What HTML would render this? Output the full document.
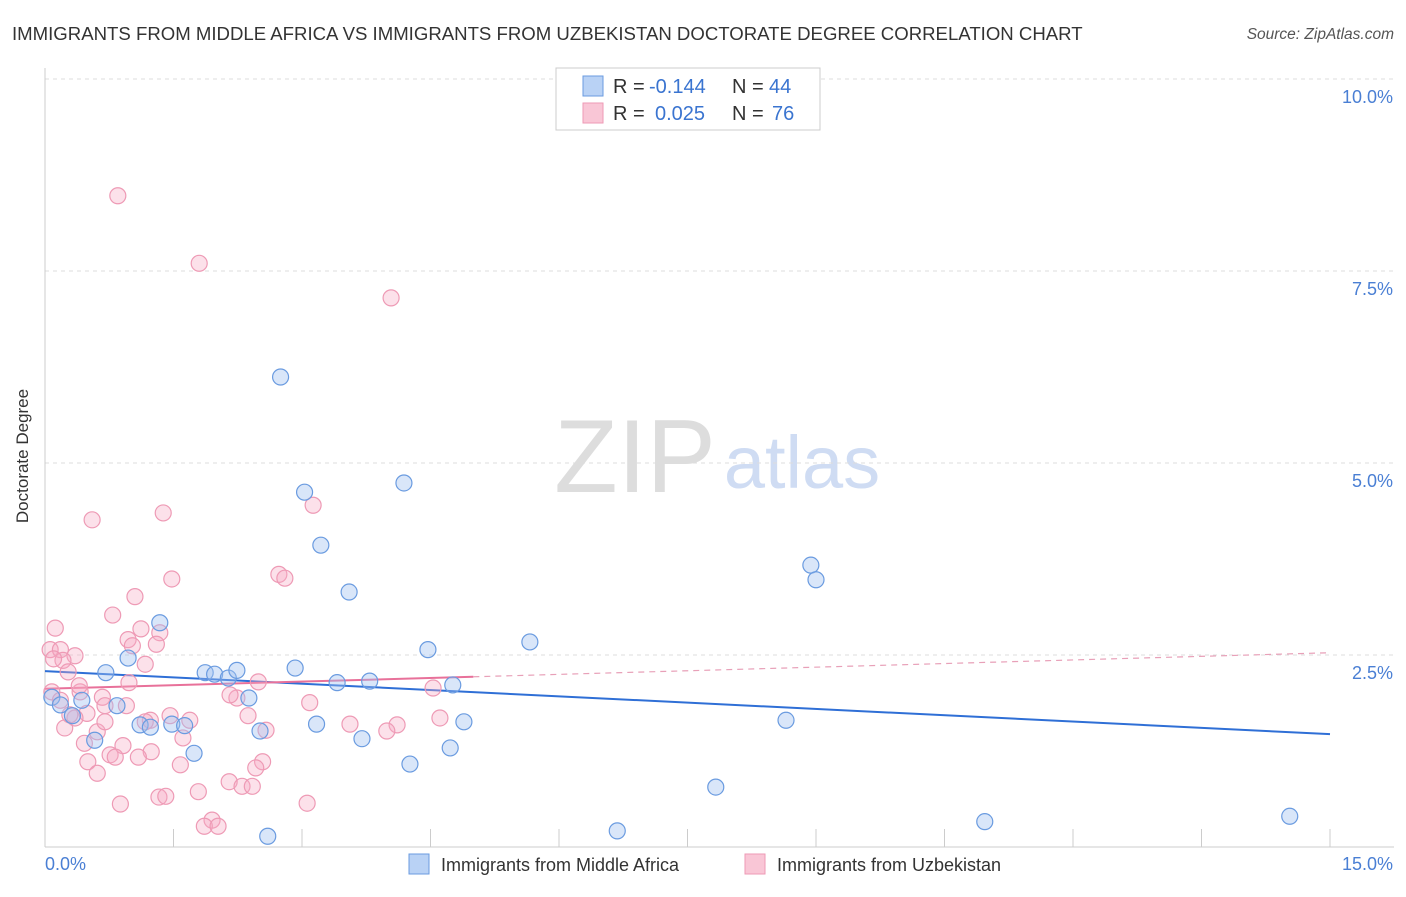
<!DOCTYPE html>
<html><head><meta charset="utf-8"><style>
body{margin:0;background:#fff;font-family:"Liberation Sans",sans-serif;}
svg text{font-family:"Liberation Sans",sans-serif;}
</style></head><body>
<svg id="c" width="1406" height="892" xmlns="http://www.w3.org/2000/svg">
<text x="12" y="40" font-size="18.6" fill="#333">IMMIGRANTS FROM MIDDLE AFRICA VS IMMIGRANTS FROM UZBEKISTAN DOCTORATE DEGREE CORRELATION CHART</text>
<text x="1394" y="39" font-size="15.5" fill="#555" font-style="italic" text-anchor="end">Source: ZipAtlas.com</text>
<text x="28" y="456" font-size="17" fill="#333" text-anchor="middle" transform="rotate(-90 28 456)">Doctorate Degree</text>
<g><text x="635" y="492" font-size="104" fill="#ddd" font-family="Liberation Serif" text-anchor="middle">ZIP</text><text x="802" y="488" font-size="74" fill="#cfdcf3" text-anchor="middle">atlas</text></g>
<g id="grid"></g><g id="axes"></g><g id="trend"></g><g id="pts"></g>
<g>
<rect x="556" y="68" width="264" height="62" fill="#fff" stroke="#ccc"/>
<rect x="583" y="76" width="20" height="20" fill="#b9d2f5" stroke="#6a9be0"/>
<rect x="583" y="103" width="20" height="20" fill="#f9c6d6" stroke="#ee9ab5"/>
<text x="613" y="93" font-size="20" fill="#333">R =</text>
<text x="649" y="93" font-size="20" fill="#3a74d0">-0.144</text>
<text x="732" y="93" font-size="20" fill="#333">N =</text>
<text x="769" y="93" font-size="20" fill="#3a74d0">44</text>
<text x="613" y="120" font-size="20" fill="#333">R =</text>
<text x="655" y="120" font-size="20" fill="#3a74d0">0.025</text>
<text x="732" y="120" font-size="20" fill="#333">N =</text>
<text x="772" y="120" font-size="20" fill="#3a74d0">76</text>
</g>
<g>
<rect x="409" y="854" width="20" height="20" fill="#b9d2f5" stroke="#6a9be0"/>
<text x="441" y="871" font-size="18" fill="#333">Immigrants from Middle Africa</text>
<rect x="745" y="854" width="20" height="20" fill="#f9c6d6" stroke="#ee9ab5"/>
<text x="777" y="871" font-size="18" fill="#333">Immigrants from Uzbekistan</text>
</g>
</svg>
<script>
const blueX=[0.08,0.18,0.32,0.43,0.58,0.71,0.84,0.97,1.11,1.23,1.34,1.48,1.63,1.74,1.87,1.98,2.14,2.24,2.38,2.51,2.60,2.75,2.92,3.03,3.17,3.22,3.41,3.55,3.70,3.79,4.19,4.26,4.47,4.73,4.76,4.89,5.66,6.68,7.83,8.65,8.94,9.00,10.97,14.53];
const blueY=[1.95,1.85,1.71,1.91,1.39,2.27,1.84,2.46,1.59,1.56,2.92,1.60,1.58,1.22,2.27,2.25,2.20,2.30,1.94,1.51,0.14,6.12,2.33,4.62,1.60,3.93,2.14,3.32,1.41,2.16,4.74,1.08,2.57,1.29,2.11,1.63,2.67,0.21,0.78,1.65,3.67,3.48,0.33,0.40];
const pinkX=[0.85,1.80,4.04,0.55,1.38,3.13,1.48,2.73,2.80,1.05,0.79,0.12,1.12,1.34,0.97,1.02,1.30,0.06,0.18,0.35,0.21,1.17,0.27,0.08,0.41,0.67,0.98,2.24,2.49,3.09,4.53,0.70,0.95,0.49,1.46,1.69,2.37,3.56,4.11,3.99,4.61,0.35,0.23,0.61,1.61,0.46,0.91,1.24,0.76,1.09,0.82,2.54,0.50,1.58,0.61,2.46,2.15,2.30,2.42,1.79,1.33,1.41,0.88,3.06,1.95,1.86,2.02,2.58,0.18,0.29,1.23,0.70,2.16,1.17,0.10,0.40];
const pinkY=[8.48,7.60,7.15,4.26,4.35,4.45,3.49,3.55,3.50,3.26,3.02,2.85,2.84,2.79,2.70,2.62,2.64,2.57,2.57,2.49,2.43,2.38,2.28,2.02,2.02,1.95,2.14,1.94,2.15,1.88,2.07,1.84,1.84,1.74,1.71,1.65,1.71,1.60,1.59,1.51,1.68,1.68,1.55,1.50,1.42,1.35,1.32,1.24,1.20,1.17,1.17,1.11,1.11,1.07,0.96,1.03,0.85,0.79,0.79,0.72,0.65,0.66,0.56,0.57,0.35,0.27,0.27,1.52,1.91,1.72,1.65,1.63,1.98,1.63,2.45,2.10];
const blueTrend=[2.29,-0.0547];
const pinkTrend=[2.06,0.0313];
const yTicks=[2.5,5,7.5,10];
const yTickLabels=["2.5%","5.0%","7.5%","10.0%"];
const xTicks=[0,1.5,3,4.5,6,7.5,9,10.5,12,13.5,15];
const NS="http://www.w3.org/2000/svg";
const X=v=>45+v*(1285/15), Y=v=>847-v*76.8;
function mk(tag,attrs,parent){const e=document.createElementNS(NS,tag);for(const k in attrs)e.setAttribute(k,attrs[k]);document.getElementById(parent).appendChild(e);return e;}
yTicks.forEach((t,i)=>{
 const l=mk('line',{x1:45,x2:1394,y1:Y(t),y2:Y(t),stroke:'#ddd','stroke-dasharray':'4,4'},'grid');
 
 
 const tx=mk('text',{x:1393,y:Y(t)+24,'font-size':18,fill:'#4a7fd4','text-anchor':'end'},'grid');
 tx.textContent=yTickLabels[i];
 
 
});
let a=mk('line',{x1:45,x2:45,y1:68,y2:847,stroke:'#ccc'},'axes');


a=mk('line',{x1:45,x2:1394,y1:847,y2:847,stroke:'#ccc'},'axes');


xTicks.forEach(t=>{const l=mk('line',{x1:X(t),x2:X(t),y1:829,y2:847,stroke:'#ccc'},'axes');
 
 });
let t0=mk('text',{x:45,y:870,'font-size':18,fill:'#4a7fd4'},'axes');t0.textContent='0.0%';


t0=mk('text',{x:1393,y:870,'font-size':18,fill:'#4a7fd4','text-anchor':'end'},'axes');t0.textContent='15.0%';


pinkX.forEach((x,i)=>{const c=mk('circle',{cx:X(x),cy:Y(pinkY[i]),r:8,fill:'rgba(246,170,196,0.35)',stroke:'#ee9ab5','stroke-width':1.2},'pts');
 
 });
blueX.forEach((x,i)=>{const c=mk('circle',{cx:X(x),cy:Y(blueY[i]),r:8,fill:'rgba(160,192,240,0.4)',stroke:'#6a9be0','stroke-width':1.2},'pts');
 
 });
let tl=mk('line',{x1:X(0),y1:Y(blueTrend[0]),x2:X(15),y2:Y(blueTrend[0]+15*blueTrend[1]),stroke:'#2f6fd6','stroke-width':2},'trend');


tl=mk('line',{x1:X(0),y1:Y(pinkTrend[0]),x2:X(5),y2:Y(pinkTrend[0]+5*pinkTrend[1]),stroke:'#e8719a','stroke-width':2},'trend');


tl=mk('line',{x1:X(5),y1:Y(pinkTrend[0]+5*pinkTrend[1]),x2:X(15),y2:Y(pinkTrend[0]+15*pinkTrend[1]),stroke:'#e8a0b8','stroke-width':1.2,'stroke-dasharray':'6,5'},'trend');


</script>
</body></html>
